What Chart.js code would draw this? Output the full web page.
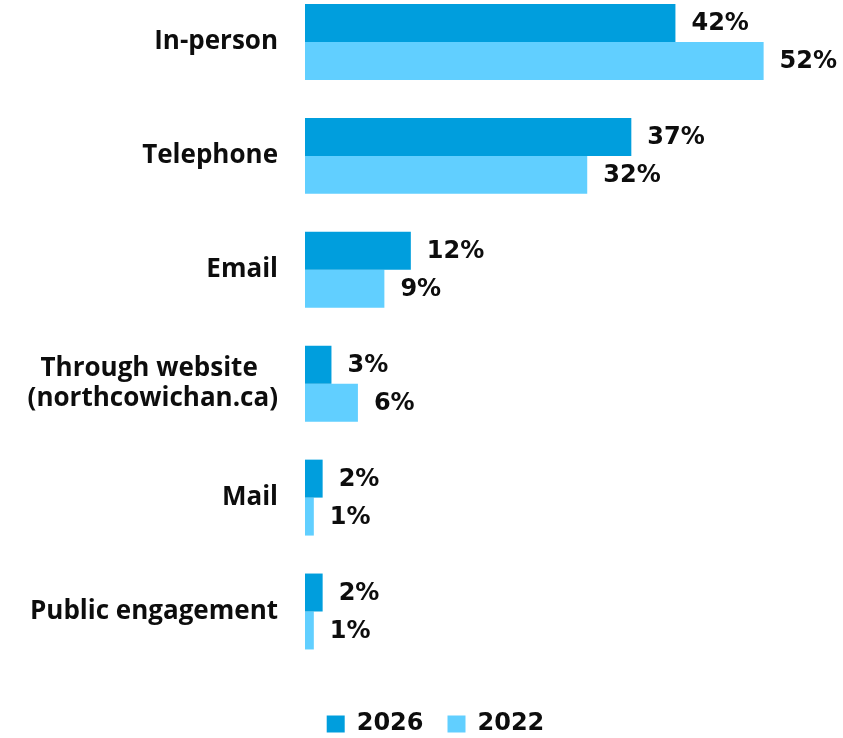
<!DOCTYPE html>
<html>
<head>
<meta charset="utf-8">
<script src="https://cdn.jsdelivr.net/npm/chart.js@4"></script>
<style>
  html, body { margin: 0; padding: 0; background: #fff; }
  #wrap { width: 843px; height: 738px; position: relative; }
</style>
</head>
<body>
<div id="wrap"><canvas id="contactChart"></canvas></div>
<script>
// ================= DATA =================
const categories = [
  "In-person",
  "Telephone",
  "Email",
  ["Through website   ", "(northcowichan.ca)"],
  "Mail",
  "Public engagement"
];
const years = ["2026", "2022"];
const share2026 = [42, 37, 12, 3, 2, 2];
const share2022 = [52, 32, 9, 6, 1, 1];

const COLOR_2026 = "#009edd";
const COLOR_2022 = "#61cfff";
const TEXT_COLOR = "#0d0d0d";

// ================= VALUE LABELS =================
// writes "NN%" just past the end of every bar
const valueLabels = {
  id: "valueLabels",
  afterDatasetsDraw(chart) {
    const ctx = chart.ctx;
    ctx.save();
    ctx.font = "bold 24px 'DejaVu Sans'";
    ctx.fillStyle = TEXT_COLOR;
    ctx.textAlign = "left";
    ctx.textBaseline = "middle";
    chart.data.datasets.forEach((ds, i) => {
      chart.getDatasetMeta(i).data.forEach((bar, j) => {
        ctx.fillText(ds.data[j] + "%", bar.x + 16, bar.y + 1);
      });
    });
    ctx.restore();
  }
};

// ================= CHART =================
const ctx = document.getElementById("contactChart").getContext("2d");

new Chart(ctx, {
  type: "bar",
  data: {
    labels: categories,
    datasets: [
      { label: years[0], data: share2026, backgroundColor: COLOR_2026, clip: false },
      { label: years[1], data: share2022, backgroundColor: COLOR_2022, clip: false }
    ]
  },
  options: {
    indexAxis: "y",
    responsive: true,
    maintainAspectRatio: false,
    animation: false,
    categoryPercentage: 2 / 3,
    barPercentage: 1,
    layout: { padding: { top: 41, left: 28, right: 0, bottom: -8 } },
    scales: {
      x: {
        min: 0,
        max: 61,
        grid: { display: false, drawTicks: false },
        border: { display: false },
        ticks: { display: false },
        afterFit: s => { s.height = 76.5; }
      },
      y: {
        offset: false,
        grid: { display: false, drawTicks: false },
        border: { display: false },
        ticks: {
          color: TEXT_COLOR,
          padding: 27,
          font: { family: "'Open Sans'", size: 26, weight: "bold", lineHeight: 1.154 }
        },
        afterFit: s => { s.width = 277; }
      }
    },
    plugins: {
      tooltip: { enabled: false },
      legend: {
        position: "bottom",
        labels: {
          boxWidth: 18,
          boxHeight: 17,
          padding: 24,
          color: TEXT_COLOR,
          font: { family: "'DejaVu Sans'", size: 24, weight: "bold" }
        }
      }
    }
  },
  plugins: [valueLabels]
});
</script>
</body>
</html>
